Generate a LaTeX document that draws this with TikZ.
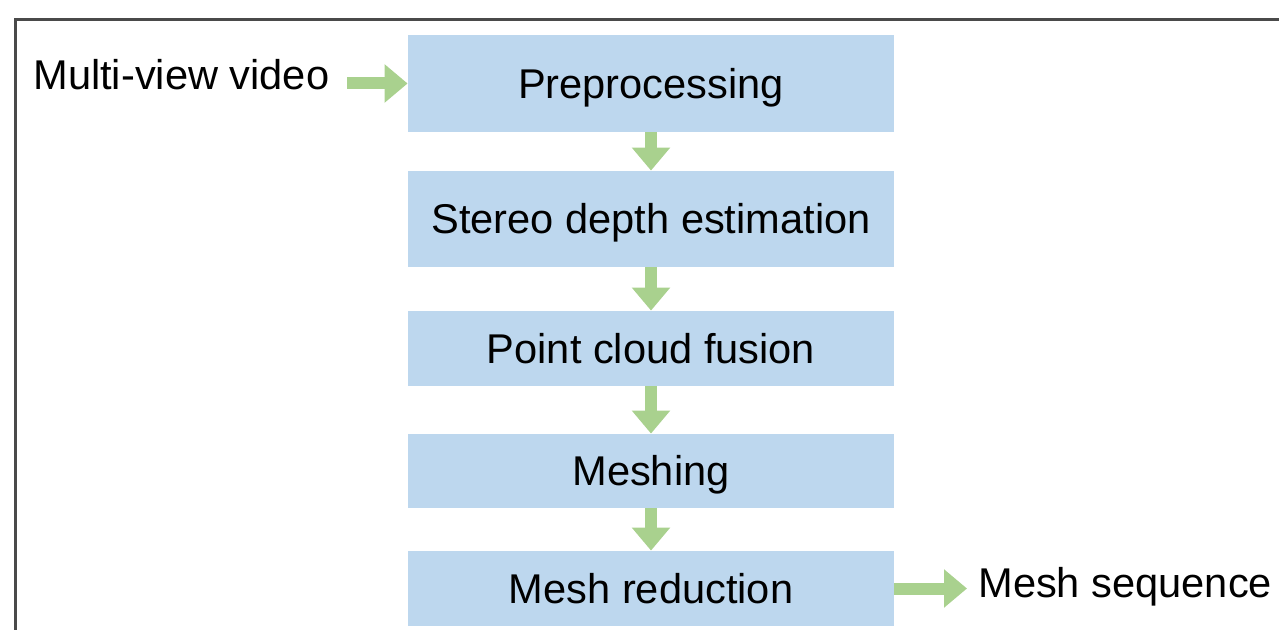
\documentclass[tikz,border=0pt]{standalone}
\usepackage{fontspec}
\setmainfont{Liberation Sans}
\usetikzlibrary{arrows.meta}
\definecolor{boxblue}{HTML}{BDD7EE}
\definecolor{arrgreen}{HTML}{A9D18E}
\definecolor{frame}{HTML}{4A4A4A}
\begin{document}
\begin{tikzpicture}[x=0.5pt,y=-0.5pt,
  stagebox/.style={fill=boxblue, draw=none, inner sep=0pt, minimum width=243pt,
    text height=14.7pt, text depth=0pt, font=\fontsize{20.8pt}{24pt}\selectfont},
  lbl/.style={inner sep=0pt, font=\fontsize{20.8pt}{24pt}\selectfont},
  garrow/.style={draw=arrgreen, line width=6pt,
    -{Triangle[width=18.5pt,length=11.5pt]}}]
\useasboundingbox (0,0) rectangle (1279,630);
\draw[frame, line width=1.1pt] (15.5,630) -- (15.5,19.5) -- (1279,19.5);

\node[stagebox, minimum height=48.5pt] (b1) at (651,83.5) {Preprocessing};
\node[stagebox, minimum height=48pt] (b2) at (651,219) {Stereo depth estimation};
\node[stagebox, minimum height=37.5pt] (b3) at (651,348.5) {Point cloud fusion};
\node[stagebox, minimum height=37pt] (b4) at (651,471) {Meshing};
\node[stagebox, minimum height=37.5pt] (b5) at (651,588.5) {Mesh reduction};

\node[lbl, anchor=base west] (mv) at (33,90) {Multi-view video};
\node[lbl, anchor=base west] (ms) at (978,597) {Mesh sequence};
\coordinate (mvout) at (347,83.5);
\coordinate (msin) at (967,588.5);

\draw[garrow] (mvout) -- (b1.west);
\draw[garrow] (b1.south) -- (b2.north);
\draw[garrow] (b2.south) -- (b3.north);
\draw[garrow] (b3.south) -- (b4.north);
\draw[garrow] (b4.south) -- (b5.north);
\draw[garrow] (b5.east) -- (msin);
\end{tikzpicture}
\end{document}
